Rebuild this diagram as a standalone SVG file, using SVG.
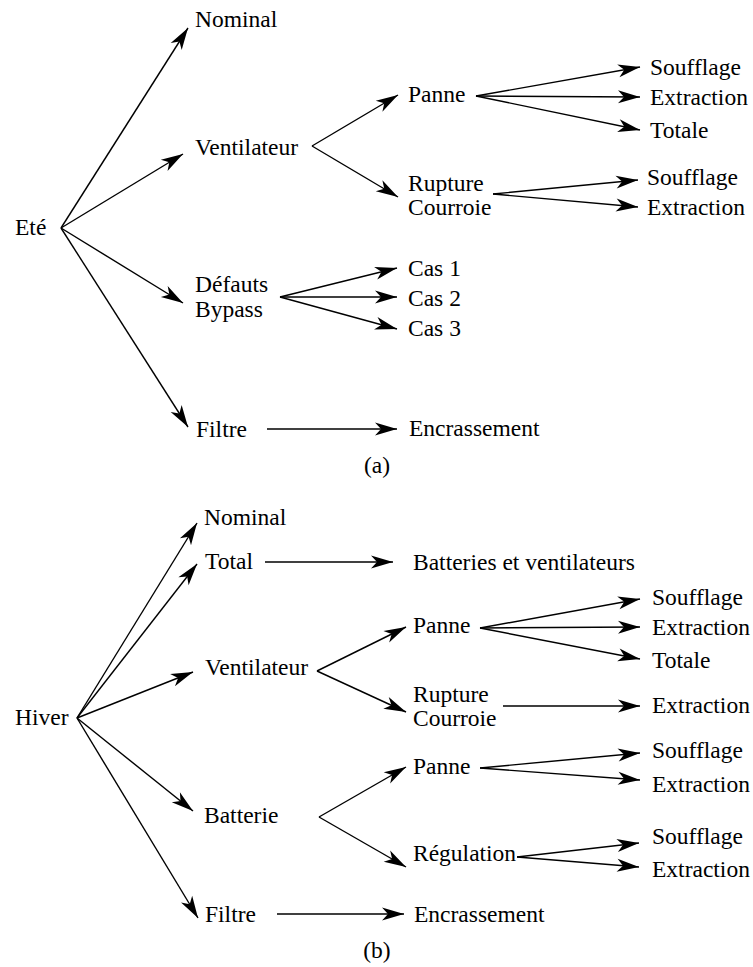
<svg xmlns="http://www.w3.org/2000/svg" width="753" height="967" viewBox="0 0 753 967" font-family="'Liberation Serif', 'DejaVu Serif', serif">
<style>
text{font-family:'Liberation Serif','DejaVu Serif',serif;font-size:23.5px;fill:#000}
.c line{stroke:#000;stroke-width:1.4;marker-end:url(#ah)}
</style>
<defs>
<marker id="ah" viewBox="-23 -7 24 14" refX="0" refY="0" markerWidth="24" markerHeight="14" markerUnits="userSpaceOnUse" orient="auto">
<path d="M0,0 L-22,-6.5 L-16,0 L-22,6.5 Z" fill="#000"/>
</marker>
</defs>
<rect width="753" height="967" fill="#fff"/>
<g id="partA">
<g id="a-ete"><text x="15" y="235">Eté</text></g>
<g id="a-nominal"><text x="195" y="27">Nominal</text></g>
<g id="a-ventilateur"><text x="195" y="155">Ventilateur</text></g>
<g id="a-defauts"><text x="195" y="292">Défauts</text><text x="195" y="317">Bypass</text></g>
<g id="a-filtre"><text x="196" y="437">Filtre</text></g>
<g id="a-panne"><text x="408" y="102">Panne</text></g>
<g id="a-rupture"><text x="408" y="191">Rupture</text><text x="408" y="215">Courroie</text></g>
<g id="a-p-soufflage"><text x="650" y="75">Soufflage</text></g>
<g id="a-p-extraction"><text x="650" y="105">Extraction</text></g>
<g id="a-p-totale"><text x="650" y="138">Totale</text></g>
<g id="a-r-soufflage"><text x="647" y="185">Soufflage</text></g>
<g id="a-r-extraction"><text x="647" y="215">Extraction</text></g>
<g id="a-cas1"><text x="408" y="276">Cas 1</text></g>
<g id="a-cas2"><text x="408" y="306">Cas 2</text></g>
<g id="a-cas3"><text x="408" y="336">Cas 3</text></g>
<g id="a-encrassement"><text x="409" y="436">Encrassement</text></g>
<g id="a-caption"><text x="377" y="473" text-anchor="middle">(a)</text></g>
</g>
<g id="partB">
<g id="b-hiver"><text x="15" y="725">Hiver</text></g>
<g id="b-nominal"><text x="204" y="525">Nominal</text></g>
<g id="b-total"><text x="205" y="569">Total</text></g>
<g id="b-batvent"><text x="413" y="570">Batteries et ventilateurs</text></g>
<g id="b-ventilateur"><text x="205" y="675">Ventilateur</text></g>
<g id="b-v-panne"><text x="413" y="633">Panne</text></g>
<g id="b-v-p-soufflage"><text x="652" y="605">Soufflage</text></g>
<g id="b-v-p-extraction"><text x="652" y="635">Extraction</text></g>
<g id="b-v-p-totale"><text x="652" y="668">Totale</text></g>
<g id="b-rupture"><text x="413" y="702">Rupture</text><text x="413" y="726">Courroie</text></g>
<g id="b-r-extraction"><text x="652" y="713">Extraction</text></g>
<g id="b-batterie"><text x="204" y="823">Batterie</text></g>
<g id="b-b-panne"><text x="413" y="774">Panne</text></g>
<g id="b-b-p-soufflage"><text x="652" y="758">Soufflage</text></g>
<g id="b-b-p-extraction"><text x="652" y="792">Extraction</text></g>
<g id="b-regulation"><text x="413" y="861">Régulation</text></g>
<g id="b-reg-soufflage"><text x="652" y="844">Soufflage</text></g>
<g id="b-reg-extraction"><text x="652" y="877">Extraction</text></g>
<g id="b-filtre"><text x="205" y="922">Filtre</text></g>
<g id="b-encrassement"><text x="414" y="922">Encrassement</text></g>
<g id="b-caption"><text x="377" y="958" text-anchor="middle">(b)</text></g>
</g>
<g id="connectors" class="c">
<line x1="61" y1="228" x2="188" y2="28"/>
<line x1="61" y1="228" x2="183" y2="154"/>
<line x1="61" y1="228" x2="183" y2="303"/>
<line x1="61" y1="228" x2="188" y2="427"/>
<line x1="312" y1="146" x2="398" y2="95"/>
<line x1="312" y1="146" x2="398" y2="197"/>
<line x1="476" y1="96" x2="640" y2="67"/>
<line x1="476" y1="96" x2="640" y2="97"/>
<line x1="476" y1="96" x2="640" y2="130"/>
<line x1="493" y1="194" x2="638" y2="180"/>
<line x1="493" y1="194" x2="638" y2="207"/>
<line x1="280" y1="297" x2="397" y2="268"/>
<line x1="280" y1="297" x2="397" y2="297"/>
<line x1="280" y1="297" x2="397" y2="329"/>
<line x1="267" y1="429" x2="397" y2="429"/>
<line x1="77" y1="718" x2="197" y2="523"/>
<line x1="77" y1="718" x2="197" y2="564"/>
<line x1="77" y1="718" x2="193" y2="672"/>
<line x1="77" y1="718" x2="193" y2="811"/>
<line x1="77" y1="718" x2="198" y2="918"/>
<line x1="265" y1="562" x2="393" y2="562"/>
<line x1="317" y1="671" x2="406" y2="627"/>
<line x1="317" y1="671" x2="406" y2="712"/>
<line x1="480" y1="628" x2="640" y2="599"/>
<line x1="480" y1="628" x2="640" y2="627"/>
<line x1="480" y1="628" x2="640" y2="659"/>
<line x1="503" y1="706" x2="640" y2="706"/>
<line x1="319" y1="817" x2="406" y2="767"/>
<line x1="319" y1="817" x2="406" y2="867"/>
<line x1="480" y1="768" x2="640" y2="753"/>
<line x1="480" y1="768" x2="640" y2="780"/>
<line x1="517" y1="857" x2="639" y2="843"/>
<line x1="517" y1="857" x2="639" y2="867"/>
<line x1="277" y1="914" x2="404" y2="914"/>
</g>
</svg>
